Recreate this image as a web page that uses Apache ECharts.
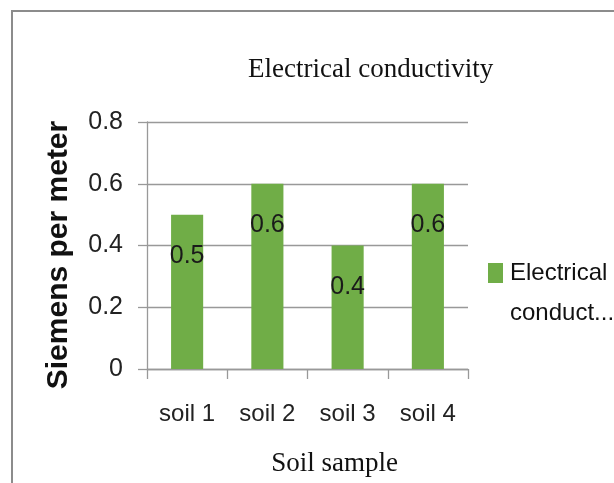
<!DOCTYPE html>
<html>
<head>
<meta charset="utf-8">
<title>Electrical conductivity</title>
<script src="https://cdn.jsdelivr.net/npm/echarts@6/dist/echarts.min.js"></script>
<style>
  html, body { margin: 0; padding: 0; background: #ffffff; }
  #chart { width: 614px; height: 483px; }
</style>
</head>
<body>
<div id="chart"></div>
<script>
// Soil samples and their measured conductivity (S/m)
const categories = ['soil 1', 'soil 2', 'soil 3', 'soil 4'];
const conductivity = [0.5, 0.6, 0.4, 0.6];
const seriesName = 'Electrical conductivity';
const yTicks = { min: 0, max: 0.8, interval: 0.2 };

const GREEN = '#70ad47';
const AXIS_GRAY = '#999999';
const SANS = "'Liberation Sans', Arial, sans-serif";
const SERIF = "'Liberation Serif', 'Times New Roman', serif";

const chart = echarts.init(document.getElementById('chart'), null, { renderer: 'canvas' });

chart.setOption({
  animation: false,
  backgroundColor: '#ffffff',
  title: {
    text: 'Electrical conductivity',
    left: 248,
    top: 56,
    padding: 0,
    textStyle: { fontFamily: SERIF, fontSize: 27, fontWeight: 'normal', color: '#111111' }
  },
  legend: {
    data: [seriesName],
    orient: 'vertical',
    left: 483,
    top: 208,
    itemWidth: 15,
    itemHeight: 20,
    icon: 'rect',
    // long legend name is cut to two lines; the blank first line keeps
    // the first word level with the colour swatch
    formatter: function (name) {
      const words = name.split(' ');
      return ' \n' + words[0] + '\n' + words[1].slice(0, 7) + '...';
    },
    textStyle: {
      fontFamily: SANS,
      fontSize: 24,
      lineHeight: 40,
      color: '#111111',
      padding: [0, 0, 0, 2]
    }
  },
  grid: { left: 147, right: 146, top: 122, bottom: 114, containLabel: false },
  xAxis: {
    type: 'category',
    data: categories,
    name: 'Soil sample',
    nameLocation: 'middle',
    nameGap: 81,
    nameTextStyle: { fontFamily: SERIF, fontSize: 27, color: '#111111', padding: [0, 0, 0, 54] },
    axisLine: { lineStyle: { color: AXIS_GRAY, width: 1.3 } },
    axisTick: { show: true, length: 10, lineStyle: { color: AXIS_GRAY, width: 1.3 } },
    axisLabel: { fontFamily: SANS, fontSize: 24, color: '#222222', margin: 33 }
  },
  yAxis: {
    type: 'value',
    min: yTicks.min,
    max: yTicks.max,
    interval: yTicks.interval,
    name: 'Siemens per meter',
    nameLocation: 'middle',
    nameGap: 73,
    nameTextStyle: { fontFamily: SANS, fontSize: 30, fontWeight: 'bold', color: '#111111', padding: [0, 19, 0, 0] },
    axisLine: { show: true, lineStyle: { color: AXIS_GRAY, width: 1.3 } },
    axisTick: { show: true, length: 9, lineStyle: { color: AXIS_GRAY, width: 1.3 } },
    axisLabel: { fontFamily: SANS, fontSize: 25, color: '#222222', margin: 24 },
    splitLine: { show: true, lineStyle: { color: AXIS_GRAY, width: 1.3 } }
  },
  series: [{
    name: seriesName,
    type: 'bar',
    data: conductivity,
    barWidth: '40%',
    itemStyle: { color: GREEN },
    label: {
      show: true,
      position: 'insideTop',
      distance: 29,
      fontFamily: SANS,
      fontSize: 25,
      color: '#1a1a1a'
    }
  }],
  graphic: [{
    type: 'rect',
    shape: { x: 12, y: 11, width: 700, height: 600 },
    style: { fill: 'none', stroke: '#8c8c8c', lineWidth: 2 },
    silent: true
  }]
});
</script>
</body>
</html>
